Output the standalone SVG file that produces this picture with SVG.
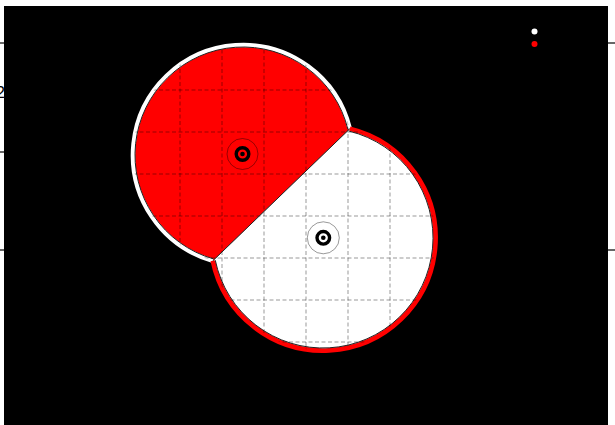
<svg xmlns="http://www.w3.org/2000/svg" width="615" height="425" viewBox="0 0 615 425">
  <defs>
    <style>
      .tick { stroke: #000; stroke-width: 1.2; }
      .grid { stroke: #000; stroke-opacity: 0.5; stroke-width: 0.8; stroke-dasharray: 4 2.5; fill: none; }
      .edge { fill: none; stroke: #222; stroke-width: 1; }
      .halo { fill: none; stroke: #000; stroke-opacity: 0.5; stroke-width: 0.8; }
      .ring { fill: none; stroke: #000; stroke-width: 3.4; }
      .dot { fill: #000; }
    </style>
    <clipPath id="disks">
      <path d="M 349.82 128.75 A 110 110 0 1 0 212.84 260.79 Z"/>
      <path d="M 349.82 128.75 A 112.5 112.5 0 1 1 212.84 260.79 Z"/>
    </clipPath>
  </defs>
  <rect x="0" y="0" width="615" height="425" fill="#fff"/>
  <text x="5" y="98" font-family="Liberation Sans, Arial, sans-serif" font-size="16" text-anchor="end" fill="#000">2</text>
  <g id="axes">
    <line class="tick" x1="0" y1="43" x2="5" y2="43"/>
    <line class="tick" x1="0" y1="152" x2="5" y2="152"/>
    <line class="tick" x1="0" y1="250" x2="5" y2="250"/>
    <line class="tick" x1="607" y1="43" x2="615" y2="43"/>
    <line class="tick" x1="607" y1="250" x2="615" y2="250"/>
  </g>
  <rect x="4" y="6" width="604" height="419" fill="#000"/>

  <g id="disk-red">
    <path d="M 349.82 128.75 A 110 110 0 1 0 212.84 260.79 Z" fill="#ff0000"/>
    <path d="M 349.82 128.75 A 110 110 0 1 0 212.84 260.79" fill="none" stroke="#fff" stroke-width="4.5"/>
    <path class="edge" d="M 347.88 129.23 A 108 108 0 1 0 213.39 258.87"/>
  </g>
  <g id="disk-white">
    <path d="M 349.82 128.75 A 112.5 112.5 0 1 1 212.84 260.79 Z" fill="#fff"/>
    <path d="M 349.82 128.75 A 112.5 112.5 0 1 1 212.84 260.79" fill="none" stroke="#ff0000" stroke-width="4.8"/>
    <path class="edge" d="M 349.22 131.18 A 110 110 0 1 1 215.29 260.28"/>
  </g>

  <g id="grid" clip-path="url(#disks)">
    <line class="grid" x1="180" y1="30" x2="180" y2="370"/>
    <line class="grid" x1="222" y1="30" x2="222" y2="370"/>
    <line class="grid" x1="264" y1="30" x2="264" y2="370"/>
    <line class="grid" x1="306" y1="30" x2="306" y2="370"/>
    <line class="grid" x1="348" y1="30" x2="348" y2="370"/>
    <line class="grid" x1="390" y1="30" x2="390" y2="370"/>
    <line class="grid" x1="120" y1="90" x2="450" y2="90"/>
    <line class="grid" x1="120" y1="132" x2="450" y2="132"/>
    <line class="grid" x1="120" y1="174" x2="450" y2="174"/>
    <line class="grid" x1="120" y1="216" x2="450" y2="216"/>
    <line class="grid" x1="120" y1="258" x2="450" y2="258"/>
    <line class="grid" x1="120" y1="300" x2="450" y2="300"/>
    <line class="grid" x1="120" y1="342" x2="450" y2="342"/>
  </g>

  <g id="connectors">
    <line x1="349.82" y1="128.75" x2="212.84" y2="260.79" stroke="#222" stroke-width="1"/>
  </g>

  <g id="marker-1">
    <circle class="halo" cx="242.5" cy="154" r="15.5"/>
    <circle class="ring" cx="242.5" cy="154" r="6.3"/>
    <circle class="dot" cx="242.5" cy="154" r="2.3"/>
  </g>
  <g id="marker-2">
    <circle class="halo" cx="323.3" cy="237.8" r="16"/>
    <circle class="ring" cx="323.3" cy="237.8" r="6.3"/>
    <circle class="dot" cx="323.3" cy="237.8" r="2.3"/>
  </g>

  <g id="legend">
    <circle cx="534.5" cy="31.5" r="3" fill="#fff"/>
    <circle cx="534.5" cy="44" r="3" fill="#ff0000"/>
  </g>
</svg>
